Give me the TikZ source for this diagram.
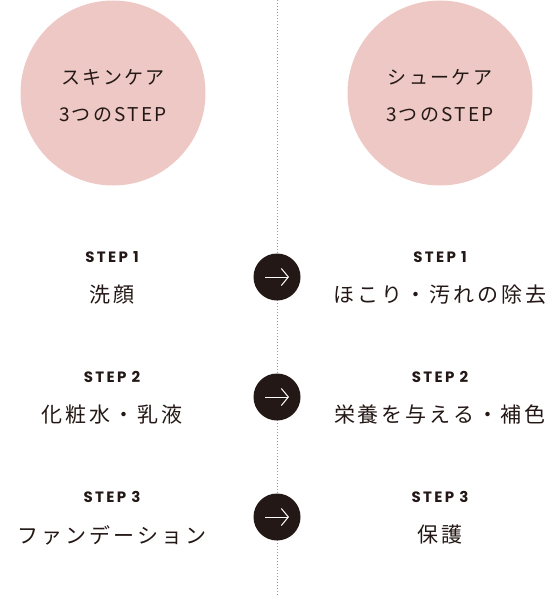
\documentclass[tikz,border=0pt]{standalone}
\usepackage{fontspec}
\newfontfamily\jpfont[LetterSpace=14]{Noto Sans CJK JP}
\newfontfamily\headfont[LetterSpace=12]{Noto Sans CJK JP}
\newfontfamily\stepfont[LetterSpace=16]{Poppins}
\definecolor{shoepink}{HTML}{EDC8C4}
\definecolor{shoedark}{HTML}{231815}
\definecolor{shoegray}{HTML}{9A9A9A}
\usetikzlibrary{arrows.meta,positioning}

\begin{document}
\begin{tikzpicture}[x=1pt,y=-1pt,
  headcircle/.style={circle,fill=shoepink,minimum size=185pt,inner sep=0pt},
  headtext/.style={text=shoedark,font=\headfont\fontsize{19}{19}\selectfont},
  arrowdot/.style={circle,fill=shoedark,minimum size=47pt,inner sep=0pt},
  arrowline/.style={white,line width=1pt,-{Straight Barb[length=7pt,width=17pt]}},
  steplabel/.style={text=shoedark,font=\stepfont\bfseries\fontsize{15}{15}\selectfont},
  steptext/.style={text=shoedark,font=\jpfont\fontsize{21}{21}\selectfont}]
\useasboundingbox (0,0) rectangle (559,596);

% dotted divider
\coordinate (divtop) at (277,0);
\coordinate (divbot) at (277,596);
\draw[shoegray,line width=0.8pt,dash pattern=on 1pt off 2pt] (divtop) -- (divbot);

% heading circles
\node[headcircle] (skin) at (113,93) {};
\node[headcircle] (shoe) at (440,93) {};
\node[headtext] (skintitle) at (113,77) {スキンケア};
\node[headtext] (skinsub) at (113,115) {3つのSTEP};
\node[headtext] (shoetitle) at (440,77) {シューケア};
\node[headtext] (shoesub) at (440,115) {3つのSTEP};

% the three steps, side by side
\foreach \i/\y/\skinstep/\shoestep in {1/277/洗顔/ほこり・汚れの除去, 2/397/化粧水・乳液/栄養を与える・補色, 3/517/ファンデーション/保護} {
    \node[arrowdot] (go\i) at (277,\y) {};
    \draw[arrowline] ([xshift=-12pt]go\i.center) -- ([xshift=12pt]go\i.center);
    \node[steplabel] (skinlabel\i) at (112,\y-20) {STEP\hspace{5pt}\i};
    \node[steptext] (skintext\i) at (112,\y+18) {\skinstep};
    \node[steplabel] (shoelabel\i) at (440,\y-20) {STEP\hspace{5pt}\i};
    \node[steptext] (shoetext\i) at (440,\y+18) {\shoestep};
}
\end{tikzpicture}
\end{document}
